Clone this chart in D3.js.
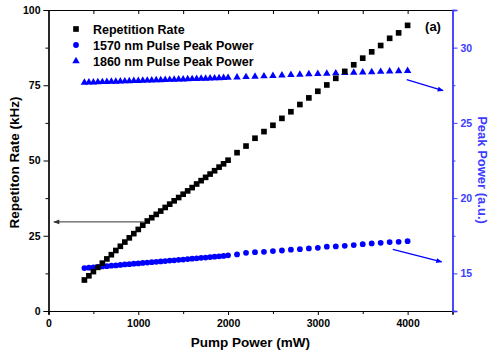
<!DOCTYPE html>
<html>
<head>
<meta charset="utf-8">
<script src="https://cdn.jsdelivr.net/npm/d3@7"></script>
<style>
  html, body { margin: 0; padding: 0; background: #fff; }
  svg { display: block; }
  text { font-family: "Liberation Sans", Arial, sans-serif; font-weight: bold; }
</style>
</head>
<body>
<svg id="chart" width="489" height="352"></svg>
<script>
// Pump power steps: 50 mW up to 2000 mW, then 100 mW up to 4000 mW
const pumpPower = [
  400, 450, 500, 550, 600, 650, 700, 750, 800, 850, 900, 950, 1000, 1050, 1100,
  1150, 1200, 1250, 1300, 1350, 1400, 1450, 1500, 1550, 1600, 1650, 1700, 1750,
  1800, 1850, 1900, 1950, 2000,
  2100, 2200, 2300, 2400, 2500, 2600, 2700, 2800, 2900, 3000,
  3100, 3200, 3300, 3400, 3500, 3600, 3700, 3800, 3900, 4000
];

// Repetition rate (kHz), left axis
const repRate = [
  10.3, 11.7, 13.1, 14.5, 15.9, 17.3, 18.7, 20.1, 21.5, 22.9, 24.3, 25.7, 27.1, 28.5, 29.9,
  31.0, 32.1, 33.2, 34.4, 35.5, 36.6, 37.7, 38.8, 39.9, 41.0, 42.2, 43.3, 44.4,
  45.5, 46.6, 47.8, 48.9, 50.1,
  52.6, 54.8, 57.4, 59.6, 61.7, 64.0, 66.2, 68.6, 70.8, 73.0,
  75.1, 77.3, 79.6, 81.8, 84.0, 86.1, 88.2, 90.6, 92.4, 94.9
];

// 1570 nm pulse peak power (a.u.), right axis
const peak1570 = [
  15.35, 15.38, 15.40, 15.43, 15.46, 15.48, 15.51, 15.53, 15.56, 15.59, 15.61, 15.64, 15.66, 15.69, 15.72,
  15.74, 15.77, 15.79, 15.82, 15.85, 15.87, 15.90, 15.92, 15.95, 15.98, 16.00, 16.03, 16.05,
  16.08, 16.11, 16.13, 16.16, 16.20,
  16.26, 16.37, 16.41, 16.43, 16.48, 16.52, 16.57, 16.61, 16.66, 16.70,
  16.77, 16.79, 16.83, 16.88, 16.94, 16.99, 17.03, 17.08, 17.10, 17.14
];

// 1860 nm pulse peak power (a.u.), right axis
const peak1860 = [
  27.68, 27.69, 27.70, 27.71, 27.72, 27.73, 27.74, 27.75, 27.76, 27.77, 27.78, 27.79, 27.80, 27.81, 27.82,
  27.83, 27.84, 27.85, 27.86, 27.87, 27.88, 27.89, 27.90, 27.91, 27.92, 27.93, 27.94, 27.95,
  27.96, 27.97, 27.98, 27.99, 28.00,
  28.03, 28.05, 28.08, 28.10, 28.13, 28.16, 28.19, 28.21, 28.24, 28.26,
  28.28, 28.30, 28.32, 28.34, 28.36, 28.38, 28.40, 28.42, 28.44, 28.46
];

const xTicks = [0, 1000, 2000, 3000, 4000];
const yLeftTicks = [0, 25, 50, 75, 100];
const yRightTicks = [15, 20, 25, 30];
const legendLabels = ["Repetition Rate", "1570 nm Pulse Peak Power", "1860 nm Pulse Peak Power"];

// Arrows pointing each series to its axis: [x0, y0, x1, y1] in data units
const leftArrow = [[1060, 29.6, 60, 29.6]];
const rightArrows = [[3990, 27.87, 4395, 27.14], [3835, 16.6, 4380, 15.76]];

const svg = d3.select("#chart");
const M = { left: 48.5, right: 452.5, top: 10, bottom: 311 };
const BLUE = "#0000ff";
const AXIS_BLUE = "#3c3cff";

const x = d3.scaleLinear().domain([0, 4500]).range([M.left, M.right]);
const yL = d3.scaleLinear().domain([0, 100]).range([M.bottom, M.top]);
const yR = d3.scaleLinear().domain([12.5, 32.5]).range([M.bottom, M.top]);

// Bottom axis: major + minor ticks, outward
const gx = svg.append("g").attr("transform", `translate(0,${M.bottom})`);
gx.call(d3.axisBottom(x).tickValues(d3.range(500, 4500, 1000)).tickSize(3).tickFormat(""));
gx.call(g => g.append("g").call(d3.axisBottom(x).tickValues(xTicks).tickSize(4).tickPadding(5).tickFormat(d3.format("d"))));
gx.selectAll(".domain").attr("stroke", "#000").attr("stroke-width", 1.2);
gx.selectAll("text").attr("font-size", 10.5).attr("fill", "#000");

// Top axis: mirror ticks pointing inward
const gt = svg.append("g").attr("transform", `translate(0,${M.top})`);
gt.call(d3.axisBottom(x).tickValues(d3.range(500, 4500, 500)).tickSize(4).tickFormat("").tickSizeOuter(0));
gt.selectAll(".domain").attr("stroke", "#000").attr("stroke-width", 1);

// Left axis
const gl = svg.append("g").attr("transform", `translate(${M.left},0)`);
gl.call(d3.axisLeft(yL).tickValues([12.5, 37.5, 62.5, 87.5]).tickSize(3).tickFormat(""));
gl.call(g => g.append("g").call(d3.axisLeft(yL).tickValues(yLeftTicks).tickSize(5).tickPadding(3)));
gl.selectAll(".domain").attr("stroke", "#000").attr("stroke-width", 1.2);
gl.selectAll("text").attr("font-size", 10.5).attr("fill", "#000");

// Right axis (blue)
const gr = svg.append("g").attr("transform", `translate(${M.right},0)`);
gr.call(d3.axisRight(yR).tickValues([17.5, 22.5, 27.5]).tickSize(3).tickFormat(""));
gr.call(g => g.append("g").call(d3.axisRight(yR).tickValues(yRightTicks).tickSize(5).tickPadding(3)));
gr.selectAll(".domain").attr("stroke", AXIS_BLUE).attr("stroke-width", 1.5);
gr.selectAll("line").attr("stroke", AXIS_BLUE);
gr.selectAll("text").attr("font-size", 10.5).attr("fill", AXIS_BLUE);

// Axis titles
svg.append("text").attr("x", (M.left + M.right) / 2).attr("y", 347)
  .attr("text-anchor", "middle").attr("font-size", 13.5).attr("fill", "#000")
  .text("Pump Power (mW)");
svg.append("text").attr("transform", `translate(19,${(M.top + M.bottom) / 2 + 2}) rotate(-90)`)
  .attr("text-anchor", "middle").attr("font-size", 13.5).attr("fill", "#000")
  .text("Repetiton Rate (kHz)");
svg.append("text").attr("transform", `translate(478,${170}) rotate(90)`)
  .attr("text-anchor", "middle").attr("font-size", 13).attr("fill", AXIS_BLUE)
  .text("Peak Power (a.u.)");

// Arrow heads
const defs = svg.append("defs");
function marker(id, color) {
  defs.append("marker").attr("id", id).attr("viewBox", "0 0 10 10")
    .attr("refX", 9).attr("refY", 5).attr("markerWidth", 7).attr("markerHeight", 6)
    .attr("orient", "auto").attr("markerUnits", "userSpaceOnUse")
    .append("path").attr("d", "M0,1 L10,5 L0,9 Z").attr("fill", color);
}
marker("headBlack", "#333");
marker("headBlue", BLUE);

svg.selectAll("line.arrowL").data(leftArrow).join("line").attr("class", "arrowL")
  .attr("x1", d => x(d[0])).attr("y1", d => yL(d[1]))
  .attr("x2", d => x(d[2])).attr("y2", d => yL(d[3]))
  .attr("stroke", "#333").attr("stroke-width", 1).attr("marker-end", "url(#headBlack)");

svg.selectAll("line.arrowR").data(rightArrows).join("line").attr("class", "arrowR")
  .attr("x1", d => x(d[0])).attr("y1", d => yR(d[1]))
  .attr("x2", d => x(d[2])).attr("y2", d => yR(d[3]))
  .attr("stroke", BLUE).attr("stroke-width", 1.2).attr("marker-end", "url(#headBlue)");

// Series markers
const sq = d3.symbol().type(d3.symbolSquare).size(32);
const ci = d3.symbol().type(d3.symbolCircle).size(26);
const tr = d3.symbol().type(d3.symbolTriangle).size(24);

svg.append("g").selectAll("path").data(pumpPower).join("path")
  .attr("d", tr).attr("fill", BLUE)
  .attr("transform", (d, i) => `translate(${x(d)},${yR(peak1860[i])})`);

svg.append("g").selectAll("path").data(pumpPower).join("path")
  .attr("d", ci).attr("fill", BLUE)
  .attr("transform", (d, i) => `translate(${x(d)},${yR(peak1570[i])})`);

svg.append("g").selectAll("path").data(pumpPower).join("path")
  .attr("d", sq).attr("fill", "#000")
  .attr("transform", (d, i) => `translate(${x(d)},${yL(repRate[i])})`);

// Legend
const legendSymbols = [sq, ci, tr];
const legendColors = ["#000", BLUE, BLUE];
const lg = svg.append("g");
legendLabels.forEach((label, i) => {
  const yy = 29 + i * 16;
  lg.append("path").attr("d", legendSymbols[i]).attr("fill", legendColors[i])
    .attr("transform", `translate(76,${yy})`);
  lg.append("text").attr("x", 93).attr("y", yy + 4.5).attr("font-size", 12.5)
    .attr("fill", "#000").text(label);
});

// Panel tag
svg.append("text").attr("x", 433).attr("y", 31).attr("text-anchor", "middle")
  .attr("font-size", 13).attr("fill", "#000").text("(a)");
</script>
</body>
</html>
